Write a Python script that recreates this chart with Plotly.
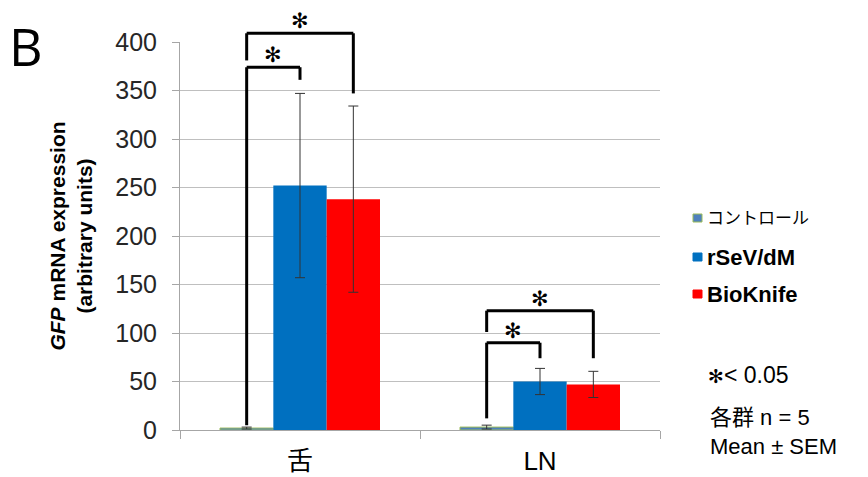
import plotly.graph_objects as go

categories = ["舌", "LN"]
series_names = ["コントロール", "rSeV/dM", "BioKnife"]
control_vals = [2, 3]
control_err = [1, 2]
rsev_vals = [252, 50]
rsev_err = [95, 13.5]
bio_vals = [238, 47]
bio_err = [96, 13.5]
y_ticks = [0, 50, 100, 150, 200, 250, 300, 350, 400]

# significance brackets: (category, bar_from, bar_to, top, left_leg_end, right_leg_end)
brackets = [
    (0, 0, 1, 374, 5, 361),
    (0, 0, 2, 409, 381, 347),
    (1, 0, 1, 90, 12, 74),
    (1, 0, 2, 123, 101, 74),
]

YMAX = 400
BARGAP = 1 / 3
nbars = 3
bw = (1 - BARGAP) / nbars
offsets = [(i - (nbars - 1) / 2) * bw for i in range(nbars)]

colors = ["#4F81BD", "#0070C0", "#FF0000"]
edge = ["#9BBB59", "#0070C0", "#FF0000"]
vals = [control_vals, rsev_vals, bio_vals]
errs = [control_err, rsev_err, bio_err]

# the page body has an 8px default margin; size the figure to fill the rest
OFF = 8
W, H = 868 - OFF, 477 - OFF
L, R, T, B = 180 - OFF, 208, 42 - OFF, 47
pw, ph = W - L - R, H - T - B


def px_x(x):
    return (x - OFF - L) / pw


def px_y(y):
    return (H - B - (y - OFF)) / ph


FONT = "Liberation Sans, Arial, Noto Sans CJK JP"

fig = go.Figure()
for i in range(3):
    fig.add_trace(go.Bar(
        x=categories, y=vals[i], name=series_names[i], showlegend=False,
        marker=dict(color=colors[i], line=dict(color=edge[i], width=1 if i == 0 else 0)),
        error_y=dict(type="data", array=errs[i], color="#333333", thickness=1, width=5),
    ))

shapes = []
annotations = []
for cat, b0, b1, top, l0, l1 in brackets:
    x0 = cat + offsets[b0]
    x1 = cat + offsets[b1]
    line = dict(color="black", width=3)
    shapes.append(dict(type="line", xref="x", yref="paper", x0=x0, x1=x0, y0=l0 / YMAX, y1=top / YMAX, line=line))
    shapes.append(dict(type="line", xref="x", yref="paper", x0=x0, x1=x1, y0=top / YMAX, y1=top / YMAX, line=line))
    shapes.append(dict(type="line", xref="x", yref="paper", x0=x1, x1=x1, y0=top / YMAX, y1=l1 / YMAX, line=line))
    annotations.append(dict(x=(x0 + x1) / 2, y=top / YMAX, xref="x", yref="paper", text="✻",
                            showarrow=False, yanchor="middle", yshift=12,
                            font=dict(size=21, color="black", family="DejaVu Sans")))

# manual legend
legend_rows = [(218, "コントロール", 17), (257, "<b>rSeV/dM</b>", 22), (294, "<b>BioKnife</b>", 22)]
for i, (yc, txt, fs) in enumerate(legend_rows):
    shapes.append(dict(type="rect", xref="paper", yref="paper",
                       x0=px_x(693), x1=px_x(702), y0=px_y(yc + 4), y1=px_y(yc - 4),
                       fillcolor=colors[i], line=dict(color=edge[i], width=1)))
    annotations.append(dict(x=px_x(705), y=px_y(yc), xref="paper", yref="paper", text=txt,
                            showarrow=False, xanchor="left", yanchor="middle",
                            font=dict(size=fs, color="black", family=FONT)))

annotations += [
    dict(x=px_x(7), y=px_y(OFF), xref="paper", yref="paper", text="B", showarrow=False,
         xanchor="left", yanchor="top",
         font=dict(size=52, color="black", family="Open Sans, Liberation Sans")),
    dict(x=px_x(706), y=px_y(375), xref="paper", yref="paper",
         text="<span style='font-family:DejaVu Sans;font-size:19px'>✻</span>< 0.05",
         showarrow=False, xanchor="left", yanchor="middle",
         font=dict(size=23, color="black", family=FONT)),
    dict(x=px_x(708), y=px_y(417), xref="paper", yref="paper", text="各群 n = 5",
         showarrow=False, xanchor="left", yanchor="middle",
         font=dict(size=22, color="black", family=FONT)),
    dict(x=px_x(708), y=px_y(446), xref="paper", yref="paper", text="Mean ± SEM",
         showarrow=False, xanchor="left", yanchor="middle",
         font=dict(size=22, color="black", family=FONT)),
]

fig.update_layout(
    width=W, height=H,
    margin=dict(l=L, r=R, t=T, b=B, autoexpand=False),
    paper_bgcolor="white", plot_bgcolor="white",
    barmode="group", bargap=BARGAP, bargroupgap=0,
    font=dict(family=FONT, color="black"),
    shapes=shapes, annotations=annotations,
    showlegend=False,
)
fig.update_xaxes(
    type="category", showline=True, linecolor="#A6A6A6", linewidth=1,
    ticks="outside", tickson="boundaries", ticklen=8, tickcolor="#A6A6A6",
    tickfont=dict(size=26, color="black", family=FONT), ticklabelstandoff=8,
    range=[-0.5, 1.5], showgrid=False, automargin=False,
)
fig.update_yaxes(
    range=[0, YMAX], tickvals=y_ticks, showgrid=True, gridcolor="#BFBFBF", gridwidth=1,
    showline=True, linecolor="#A6A6A6", ticks="outside", ticklen=7, tickcolor="#A6A6A6",
    tickfont=dict(size=25, color="#262626", family=FONT), zeroline=False, automargin=False,
    ticklabelstandoff=10,
    title=dict(text="<b><i>GFP</i> mRNA expression<br>(arbitrary units)</b>",
               font=dict(size=21, color="black", family=FONT), standoff=16),
)
fig.write_html("out.html")
